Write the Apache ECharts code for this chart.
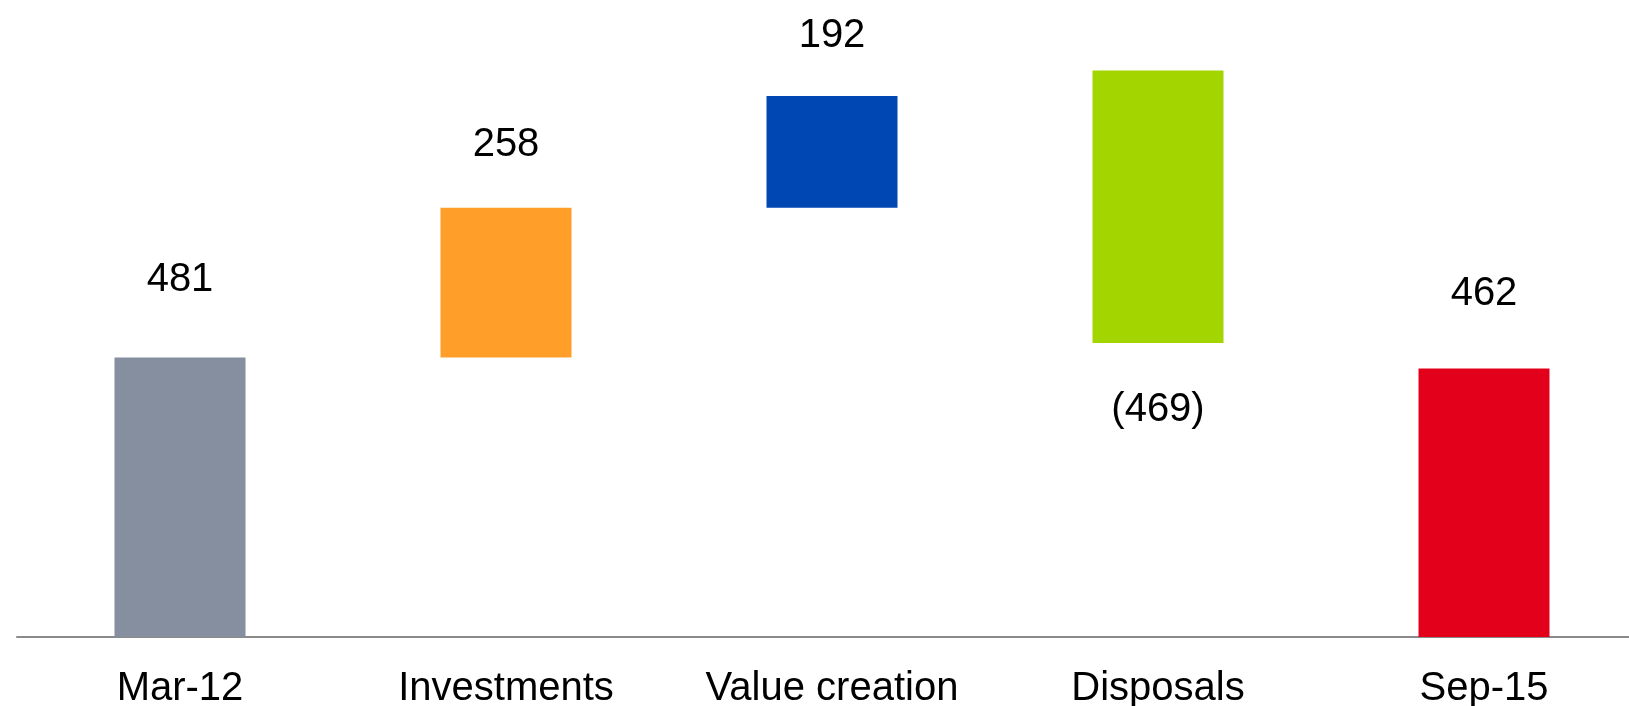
<!DOCTYPE html>
<html>
<head>
<meta charset="utf-8">
<title>Waterfall</title>
<script src="https://cdn.jsdelivr.net/npm/echarts@6/dist/echarts.min.js"></script>
<style>
  html, body { margin: 0; padding: 0; background: #fff; }
  #chart { width: 1629px; height: 706px; }
</style>
</head>
<body>
<div id="chart"></div>
<script>
  // data
  const categories = ['Mar-12', 'Investments', 'Value creation', 'Disposals', 'Sep-15']
  const values = [481, 258, 192, -469, 462]
  // invisible offset under each bar (Disposals sits a bit high in the original)
  const baseValues = [0, 481, 739, 506, 0]

  const barColors = ['#858F9F', '#FF9F29', '#0047B3', '#A3D600', '#E3001B']
  const labelGap = [58, 43, 40, 47, 55]

  const font = '"Liberation Sans", Arial, sans-serif'

  let myChart = echarts.init(document.getElementById('chart'))
  myChart.setOption({
    animation: false,
    grid: {
      left: 17,
      width: 1630,
      top: 56,
      bottom: 69,
      outerBoundsMode: 'none',
      containLabel: false
    },
    xAxis: {
      type: 'category',
      data: categories,
      axisTick: { show: false },
      axisLine: {
        lineStyle: { color: '#8a8a8a', width: 2 }
      },
      axisLabel: {
        color: '#000',
        fontSize: 40,
        fontFamily: font,
        margin: 32,
        interval: 0
      }
    },
    yAxis: {
      type: 'value',
      min: 0,
      max: 1000,
      show: false,
      splitLine: { show: false }
    },
    series: [
      {
        name: 'base',
        type: 'bar',
        stack: 'wf',
        barWidth: 131,
        silent: true,
        itemStyle: { color: 'transparent' },
        data: baseValues
      },
      {
        name: 'change',
        type: 'bar',
        stack: 'wf',
        barWidth: 131,
        data: values.map((v, i) => ({
          value: Math.abs(v),
          itemStyle: { color: barColors[i] },
          label: {
            show: true,
            position: v < 0 ? 'bottom' : 'top',
            distance: labelGap[i],
            formatter: v < 0 ? '(' + Math.abs(v) + ')' : String(v),
            color: '#000',
            fontSize: 40,
            fontFamily: font
          }
        }))
      }
    ]
  })
</script>
</body>
</html>
